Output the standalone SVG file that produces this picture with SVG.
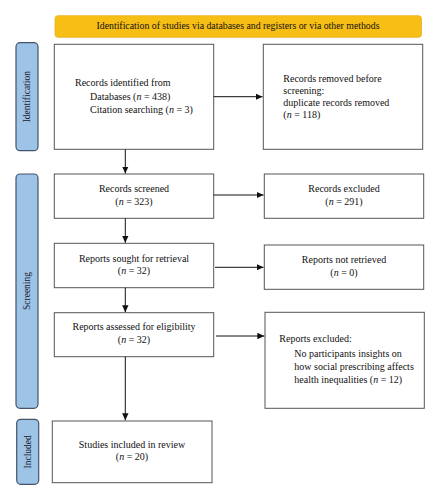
<svg xmlns="http://www.w3.org/2000/svg" width="440" height="500" viewBox="0 0 440 500">
<defs>
<marker id="ah" markerWidth="8" markerHeight="8" refX="7" refY="4" orient="auto" markerUnits="userSpaceOnUse">
<path d="M0,0.8 L7,4 L0,7.2 Z" fill="#111"/>
</marker>
<style>
.box{fill:#fff;stroke:#555;stroke-width:1}
.side{fill:#9DC3E6;stroke:#44546A;stroke-width:1.2}
.t{font-family:"Liberation Serif","Times New Roman",serif;font-size:10px;fill:#111}
.h{font-size:9.8px}
.c{text-anchor:middle}
.s{font-family:"Liberation Serif","Times New Roman",serif;font-size:9.5px;fill:#1a1a2a;text-anchor:middle}
.ln{stroke:#111;stroke-width:1;fill:none;marker-end:url(#ah)}
</style>
</defs>
<rect width="440" height="500" fill="#fff"/>
<g id="header">
<rect x="55" y="15.7" width="366.5" height="21.6" rx="3" fill="#F7BE16" stroke="#E8B020" stroke-width="0.8"/>
<text class="t c h" x="238" y="29.3">Identification of studies via databases and registers or via other methods</text>
</g>
<g id="side-identification">
<rect class="side" x="16" y="42.7" width="22" height="108" rx="4"/>
<text class="s" transform="translate(30.2,96.7) rotate(-90)">Identification</text>
</g>
<g id="side-screening">
<rect class="side" x="16" y="174" width="22" height="234.3" rx="4"/>
<text class="s" transform="translate(30.2,291) rotate(-90)">Screening</text>
</g>
<g id="side-included">
<rect class="side" x="16.7" y="419.3" width="22" height="65" rx="4"/>
<text class="s" transform="translate(30.9,451.8) rotate(-90)">Included</text>
</g>
<g id="records-identified">
<rect class="box" x="54.3" y="44.3" width="159.4" height="105"/>
<text class="t" x="75" y="85.7">Records identified from</text>
<text class="t" x="90" y="100">Databases (<tspan font-style="italic">n</tspan> = 438)</text>
<text class="t" x="90" y="112.7">Citation searching (<tspan font-style="italic">n</tspan> = 3)</text>
</g>
<g id="records-removed">
<rect class="box" x="263.3" y="44.3" width="159.4" height="105"/>
<text class="t" x="283.3" y="81.7">Records removed before</text>
<text class="t" x="283.3" y="94">screening:</text>
<text class="t" x="283.3" y="105.5">duplicate records removed</text>
<text class="t" x="283.3" y="117.7">(<tspan font-style="italic">n</tspan> = 118)</text>
</g>
<g id="records-screened">
<rect class="box" x="54.3" y="174" width="159.4" height="44.3"/>
<text class="t c" x="134" y="192.3">Records screened</text>
<text class="t c" x="134" y="205">(<tspan font-style="italic">n</tspan> = 323)</text>
</g>
<g id="records-excluded">
<rect class="box" x="264.3" y="174" width="159.4" height="44.3"/>
<text class="t c" x="344" y="192.3">Records excluded</text>
<text class="t c" x="344" y="205">(<tspan font-style="italic">n</tspan> = 291)</text>
</g>
<g id="reports-sought">
<rect class="box" x="54.3" y="243.3" width="159.4" height="44.4"/>
<text class="t c" x="134" y="261.7">Reports sought for retrieval</text>
<text class="t c" x="134" y="273.5">(<tspan font-style="italic">n</tspan> = 32)</text>
</g>
<g id="reports-not-retrieved">
<rect class="box" x="264.3" y="245" width="159.4" height="44.3"/>
<text class="t c" x="344" y="263.3">Reports not retrieved</text>
<text class="t c" x="344" y="275.7">(<tspan font-style="italic">n</tspan> = 0)</text>
</g>
<g id="reports-assessed">
<rect class="box" x="54.3" y="312.7" width="159.4" height="44"/>
<text class="t c" x="134" y="330">Reports assessed for eligibility</text>
<text class="t c" x="134" y="342.7">(<tspan font-style="italic">n</tspan> = 32)</text>
</g>
<g id="reports-excluded">
<rect class="box" x="265" y="312.3" width="159.3" height="96"/>
<text class="t" x="279.3" y="342">Reports excluded:</text>
<text class="t" x="294.3" y="357.3">No participants insights on</text>
<text class="t" x="294.3" y="370">how social prescribing affects</text>
<text class="t" x="294.3" y="383.3">health inequalities (<tspan font-style="italic">n</tspan> = 12)</text>
</g>
<g id="studies-included">
<rect class="box" x="52.3" y="421" width="159.7" height="61.7"/>
<text class="t c" x="132" y="448.3">Studies included in review</text>
<text class="t c" x="132" y="460">(<tspan font-style="italic">n</tspan> = 20)</text>
</g>
<g id="connectors">
<line class="ln" x1="213.7" y1="96.7" x2="262.5" y2="96.7"/>
<line class="ln" x1="125.3" y1="149.3" x2="125.3" y2="173.5"/>
<line class="ln" x1="213.7" y1="195" x2="263.5" y2="195"/>
<line class="ln" x1="125.3" y1="218.3" x2="125.3" y2="242.8"/>
<line class="ln" x1="215" y1="267.3" x2="263.5" y2="267.3"/>
<line class="ln" x1="125.3" y1="287.7" x2="125.3" y2="312.2"/>
<line class="ln" x1="216" y1="336" x2="264.3" y2="336"/>
<line class="ln" x1="125.3" y1="356.7" x2="125.3" y2="420.3"/>
</g>
</svg>
